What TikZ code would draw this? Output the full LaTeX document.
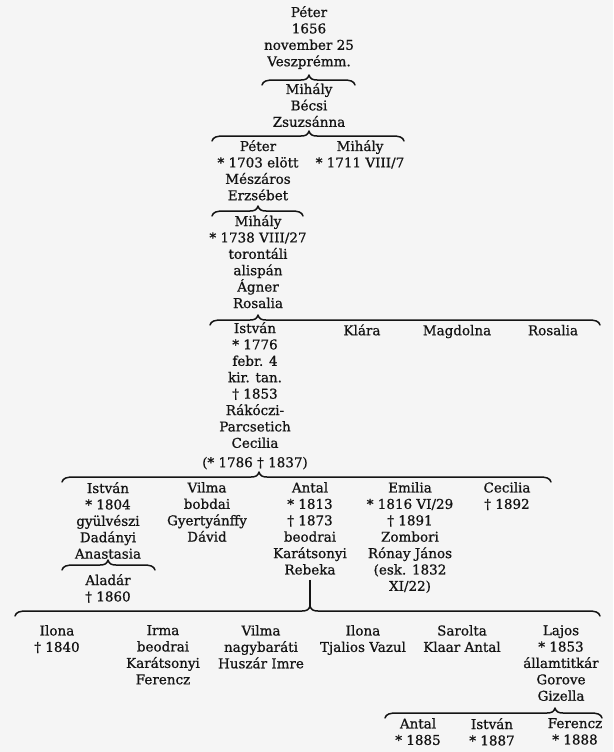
\documentclass[tikz,border=0pt]{standalone}
\usepackage{fontspec}
\setmainfont{DejaVu Serif}[BoldFont={DejaVu Serif}, BoldFeatures={FakeBold=0.8}]
\definecolor{bg}{RGB}{245,245,245}
\definecolor{ink}{RGB}{20,20,20}
\newcommand\pfont{\fontsize{13.5}{16.4}\selectfont\bfseries}
\tikzset{
  person/.style={align=center, inner sep=0pt, anchor=north, font=\pfont, text=ink,
    execute at begin node={\rule{0pt}{13pt}}},
  braceline/.style={draw=ink, line width=1.5pt, line cap=round, line join=round},
  stemline/.style={draw=ink, line width=1.4pt}
}
% top curly brace: #1 left x, #2 tip x, #3 right x, #4 y
\newcommand\topbrace[4]{%
  \coordinate (tip-#2-#4) at (#2,#4-5);
  \draw[braceline] (#1,#4+5) .. controls (#1+1,#4+1) and (#1+5,#4) .. (#1+12,#4)
    -- (#2-8,#4) .. controls (#2-3,#4) and (#2-1,#4-1.5) .. (tip-#2-#4)
    .. controls (#2+1,#4-1.5) and (#2+3,#4) .. (#2+8,#4)
    -- (#3-12,#4) .. controls (#3-5,#4) and (#3-1,#4+1) .. (#3,#4+5);}
\begin{document}
\begin{tikzpicture}[x=1pt,y=-1pt]
\fill[bg] (0,0) rectangle (613,752);
\useasboundingbox (0,0) rectangle (613,752);

\node[person] (peter0) at (309,6) {Péter\\1656\\november 25\\Veszprémm.};
\topbrace{262}{309}{355}{80}
\node[person] (mihaly1) at (309,83) {Mihály\\Bécsi\\Zsuzsánna};
\topbrace{212}{309}{404}{136}
\node[person] (peter2) at (258,140) {Péter\\* 1703 elött\\Mészáros\\Erzsébet};
\node[person] (mihaly2) at (360,140) {Mihály\\* 1711 VIII/7};
\topbrace{212}{258}{303}{211}
\node[person] (mihaly3) at (258,215) {Mihály\\* 1738 VIII/27\\torontáli\\alispán\\Ágner\\Rosalia};
\topbrace{210}{258}{600}{320}
\node[person] (istvan4) at (255,322) {István\\* 1776\\febr. 4\\kir. tan.\\† 1853\\Rákóczi-\\Parcsetich\\Cecilia\\[3pt](* 1786 † 1837)};
\node[person] (klara) at (362,322) {Klára};
\node[person] (magdolna) at (457,322) {Magdolna};
\node[person] (rosalia) at (553,322) {Rosalia};
\topbrace{62}{259}{551}{477}
\node[person] (istvan5) at (108,482) {István\\* 1804\\gyülvészi\\Dadányi\\Anastasia};
\node[person] (vilma5) at (207,482) {Vilma\\bobdai\\Gyertyánffy\\Dávid};
\node[person] (antal5) at (310,482) {Antal\\* 1813\\† 1873\\beodrai\\Karátsonyi\\Rebeka};
\node[person] (emilia5) at (410,482) {Emilia\\* 1816 VI/29\\† 1891\\Zombori\\Rónay János\\(esk. 1832\\XI/22)};
\node[person] (cecilia5) at (507,482) {Cecilia\\† 1892};
\topbrace{62}{108}{155}{565}
\node[person] (aladar) at (108,574) {Aladár\\† 1860};
\topbrace{15}{310}{600}{611}
\draw[stemline] ([yshift=-5pt]antal5.south) -- (tip-310-611);
\node[person] (ilona7) at (57,625) {Ilona\\† 1840};
\node[person] (irma7) at (163,625) {Irma\\beodrai\\Karátsonyi\\Ferencz};
\node[person] (vilma7) at (261,625) {Vilma\\nagybaráti\\Huszár Imre};
\node[person] (ilona7b) at (363,625) {Ilona\\Tjalios Vazul};
\node[person] (sarolta7) at (462,625) {Sarolta\\Klaar Antal};
\node[person] (lajos7) at (561,625) {Lajos\\* 1853\\államtitkár\\Gorove\\Gizella};
\topbrace{385}{555}{602}{713}
\node[person] (antal8) at (418,718) {Antal\\* 1885};
\node[person] (istvan8) at (492,718) {István\\* 1887};
\node[person] (ferencz8) at (575,718) {Ferencz\\* 1888};
\end{tikzpicture}
\end{document}
